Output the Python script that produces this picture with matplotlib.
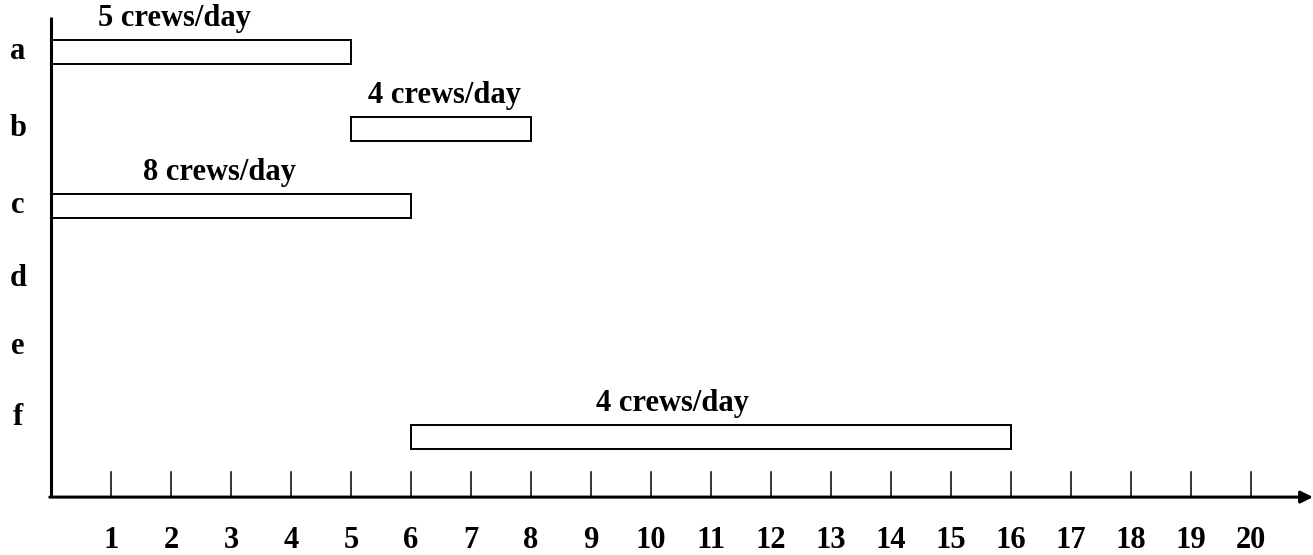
import matplotlib
matplotlib.use("Agg")
import matplotlib.pyplot as plt
from matplotlib.patches import Rectangle

# activities, top to bottom
activities = ["a", "b", "c", "d", "e", "f"]
# bars: activity, start day, end day, crew label
bar_rows = ["a", "b", "c", "f"]
bar_start = [0, 5, 0, 6]
bar_end = [5, 8, 6, 16]
bar_text = ["5 crews/day", "4 crews/day", "8 crews/day", "4 crews/day"]
days = list(range(1, 21))

plt.rcParams["font.family"] = ["Liberation Serif", "DejaVu Serif"]
plt.rcParams["font.weight"] = "bold"
FS = 22

fig = plt.figure(figsize=(13.13, 5.55), dpi=100)
ax = fig.add_axes([0, 0, 1, 1])
ax.set_xlim(-0.85, 21.03)
ax.set_ylim(-0.532, 6.675)
ax.axis("off")

row_y = {name: len(activities) - i for i, name in enumerate(activities)}
axis_y = 0.22
bar_h = 0.31

# vertical axis
ax.plot([0, 0], [axis_y, 6.45], color="black", lw=2.2, solid_capstyle="butt")
# horizontal axis with arrow
ax.annotate("", xy=(21.03, axis_y), xytext=(-0.02, axis_y),
            arrowprops=dict(arrowstyle="-|>", color="black", lw=2.2,
                            mutation_scale=18, shrinkA=0, shrinkB=0))

for d in days:
    ax.plot([d, d], [axis_y, axis_y + 0.325], color="black", lw=1.1)
    ax.text(d, -0.34, str(d), ha="center", va="center", fontsize=FS, fontweight="bold")

label_nudge = {"d": 0.06, "e": 0.18, "f": 0.25}
for name in activities:
    ax.text(-0.55, row_y[name] + label_nudge.get(name, 0), name, ha="center", va="center",
            fontsize=FS, fontweight="bold")

text_shift = [-0.45, 0.05, -0.2, -0.65]
for name, s, e, t, sh in zip(bar_rows, bar_start, bar_end, bar_text, text_shift):
    y = row_y[name]
    ax.add_patch(Rectangle((s, y - bar_h / 2), e - s, bar_h, facecolor="white",
                           edgecolor="black", lw=1.4))
    ax.text((s + e) / 2 + sh, y + 0.44, t, ha="center", va="center",
            fontsize=FS, fontweight="bold")

fig.savefig("out.png", dpi=100)
